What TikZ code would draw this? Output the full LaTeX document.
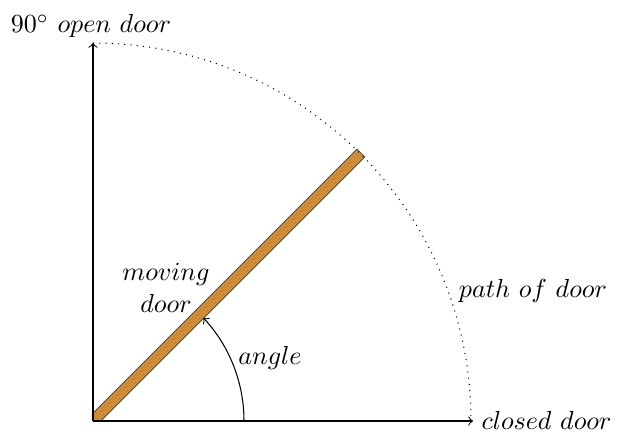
\documentclass[tikz,border=0pt]{standalone}
\usetikzlibrary{calc}
\definecolor{doorbrown}{RGB}{204,140,58}
\tikzset{
  axis/.style={->, black, line width=0.4pt},
  doorpath/.style={dotted, black, line width=0.4pt},
  anglearc/.style={->, black, line width=0.4pt},
  doorbar/.style={fill=doorbrown, draw=black!75, line width=0.25pt},
  lbl/.style={inner sep=0pt}
}
\begin{document}
\begin{tikzpicture}[x=0.3837pt,y=0.3837pt]
\useasboundingbox (-93,-13) rectangle (526,421);
\coordinate (O) at (0,0);
\coordinate (T) at (0,378);
\coordinate (R) at (380,0);
\coordinate (E) at (45:379);
\coordinate (A0) at (151,0);
% door
\fill[doorbar] (O) -- (7.8,0) -- ($(E)+(3.9,-3.9)$) -- ($(E)+(-3.9,3.9)$) -- (0,7.8) -- cycle;
% axes
\draw[axis] (O) -- (T);
\draw[axis] (O) -- (R);
% path of door
\draw[doorpath] (T) arc (90:0:378);
% angle
\draw[anglearc] (A0) arc (0:43:151);
% labels
\node[lbl] (open) at (-2,395) {$90^\circ\ open\ door$};
\node[lbl, anchor=west] (closed) at (388,1) {$closed\ door$};
\node[lbl] (path) at (440,130) {$path\ of\ door$};
\node[lbl, align=center] (moving) at (73,133) {$moving$\\$door$};
\node[lbl] (angle) at (177,63) {$angle$};
\end{tikzpicture}
\end{document}
